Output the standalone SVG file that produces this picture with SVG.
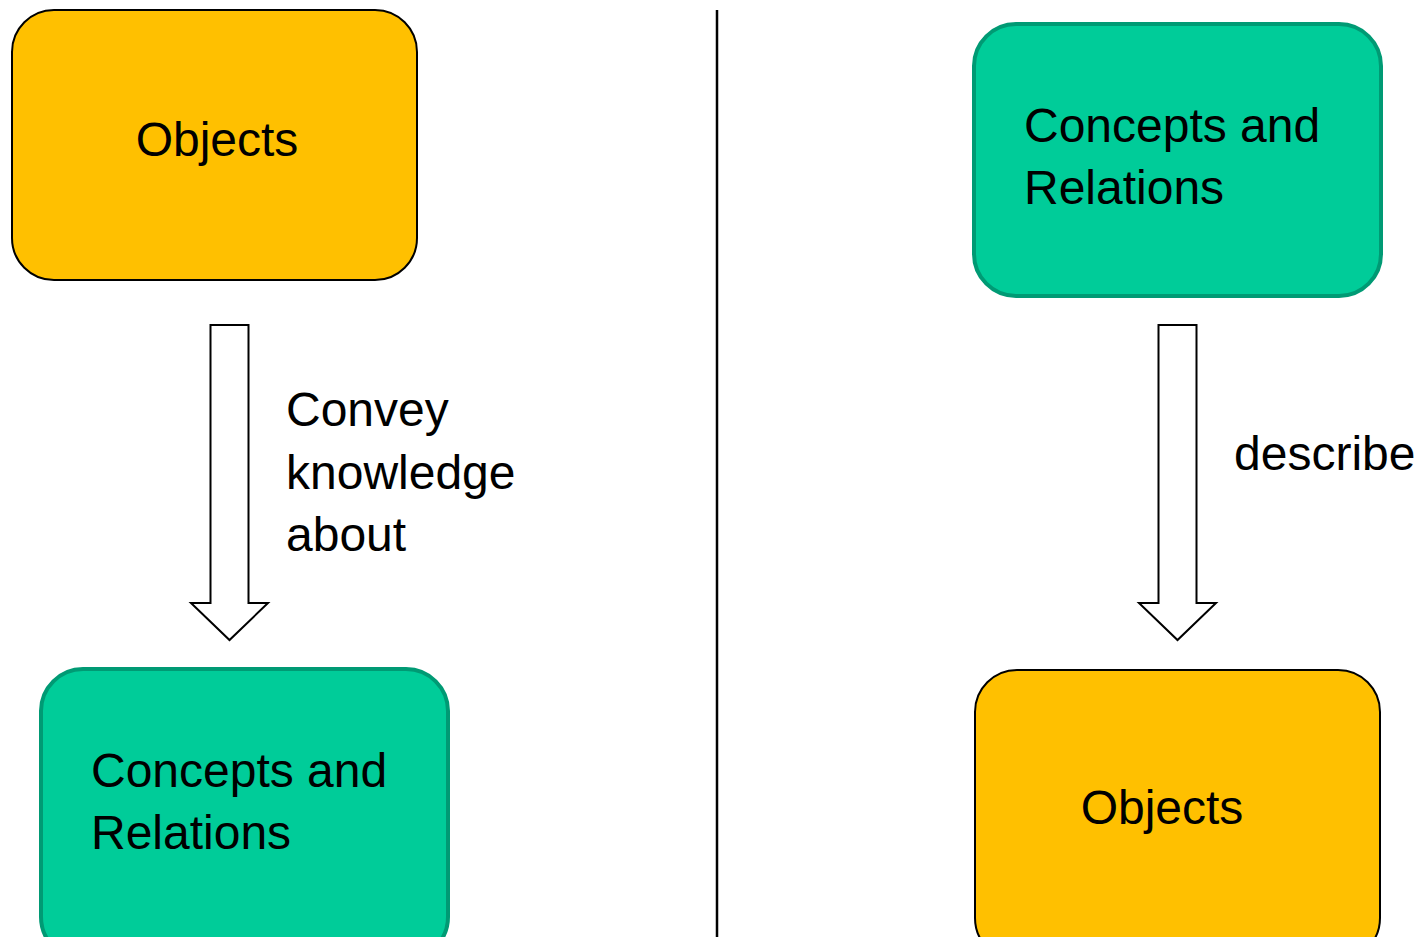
<svg xmlns="http://www.w3.org/2000/svg" width="1422" height="937" viewBox="0 0 1422 937">
<style>
.obj{fill:#FFC000;stroke:#000;stroke-width:2}
.con{fill:#00CC99;stroke:#009A74;stroke-width:4}
.arr{fill:#fff;stroke:#000;stroke-width:2}
text{font-family:"Liberation Sans",Arial,sans-serif;font-size:48px;fill:#000}
</style>
<rect width="1422" height="937" fill="#fff"/>
<line x1="717" y1="10" x2="717" y2="937" stroke="#000" stroke-width="2.5"/>
<g id="left-objects">
<rect class="obj" x="12" y="10" width="405" height="270" rx="42"/>
<text x="217" y="156" text-anchor="middle">Objects</text>
</g>
<g id="left-concepts">
<rect class="con" x="41" y="669" width="407" height="290" rx="42"/>
<text x="91" y="787">Concepts and</text>
<text x="91" y="849">Relations</text>
</g>
<g id="right-concepts">
<rect class="con" x="974" y="24" width="407" height="272" rx="42"/>
<text x="1024" y="142">Concepts and</text>
<text x="1024" y="204">Relations</text>
</g>
<g id="right-objects">
<rect class="obj" x="975" y="670" width="405" height="290" rx="42"/>
<text x="1162" y="824" text-anchor="middle">Objects</text>
</g>
<g id="connectors">
<path class="arr" d="M210.5 325 H248.5 V603 H268 L229.5 640 L191 603 H210.5 Z"/>
<path class="arr" d="M1158.5 325 H1196.5 V603 H1216 L1177.5 640 L1139 603 H1158.5 Z"/>
</g>
<g id="labels">
<text x="286" y="426">Convey</text>
<text x="286" y="489">knowledge</text>
<text x="286" y="551">about</text>
<text x="1234" y="470">describe</text>
</g>
</svg>
